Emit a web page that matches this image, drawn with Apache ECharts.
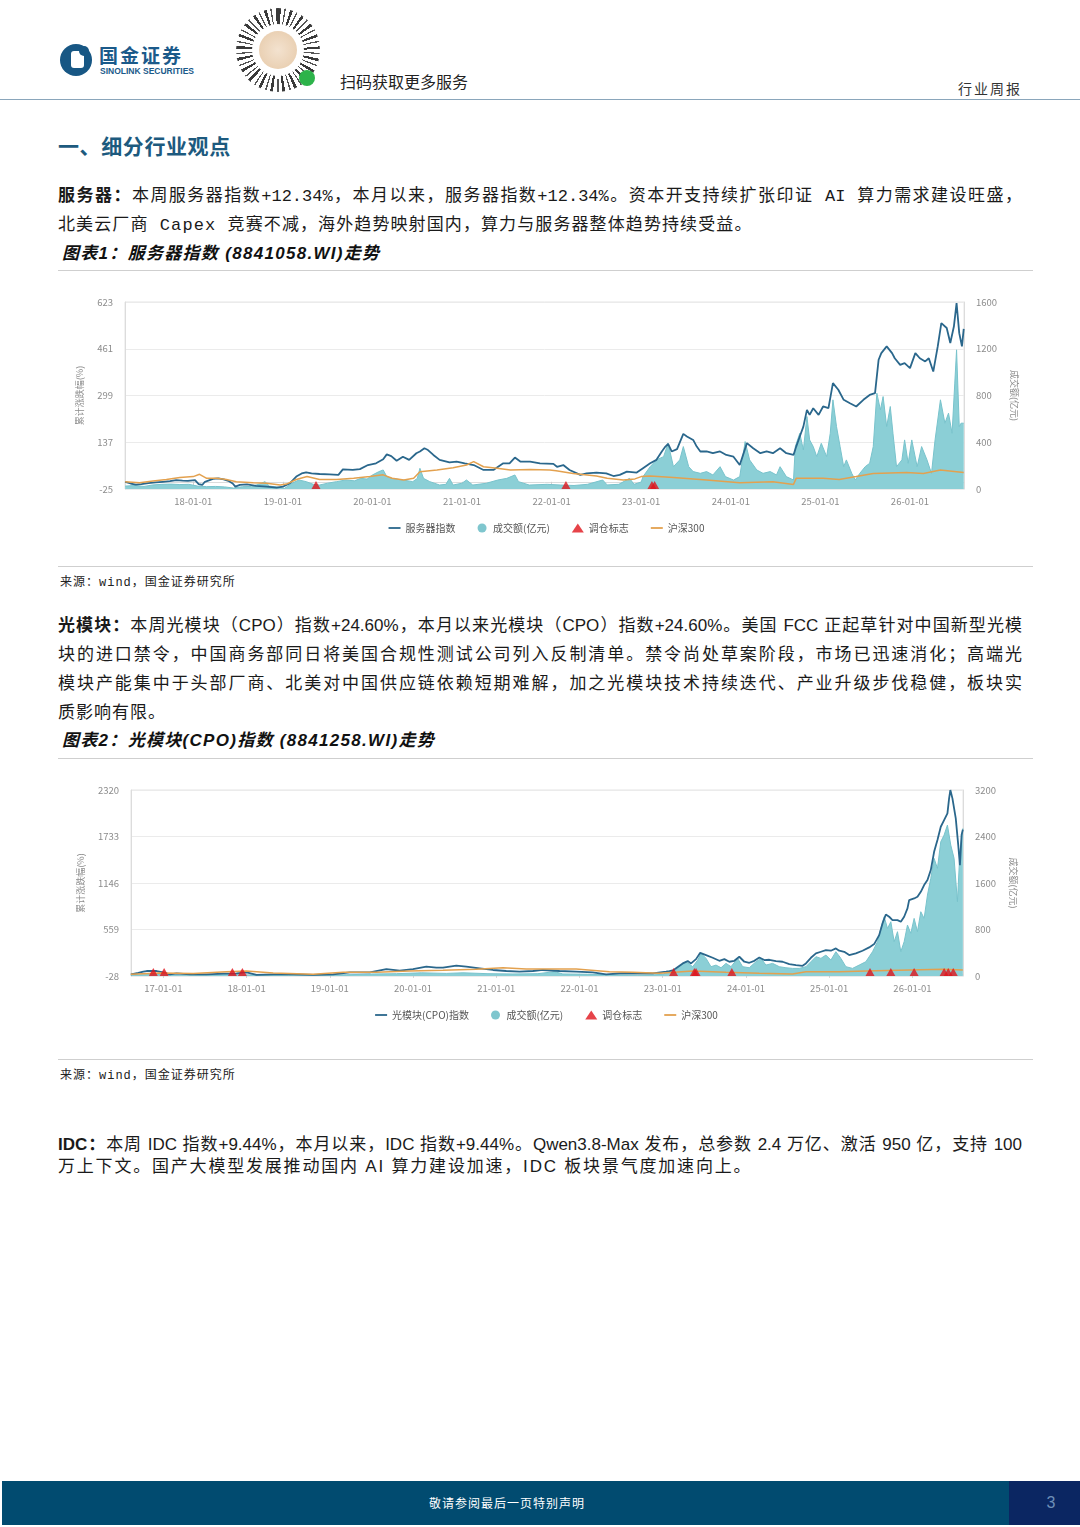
<!DOCTYPE html>
<html><head><meta charset="utf-8">
<script src="https://cdn.jsdelivr.net/npm/echarts@6/dist/echarts.min.js"></script>
<style>
html,body{margin:0;padding:0;background:#fff;}
#page{position:relative;width:1080px;height:1527px;overflow:hidden;font-family:"Noto Sans CJK SC",sans-serif;color:#1a1a1a;}
.abs{position:absolute;}
.ln{position:absolute;left:58px;width:964px;font-size:17px;text-align:justify;text-align-last:justify;overflow:hidden;white-space:normal;}
.last{text-align-last:left;}
.f1{font-family:"Liberation Mono","Noto Sans CJK SC",monospace;}
.f2{font-family:"Liberation Sans Narrow","Liberation Sans","Noto Sans CJK SC",sans-serif;}
.cap{position:absolute;left:62px;font-size:17px;font-weight:bold;font-style:italic;color:#111;letter-spacing:1.3px;font-family:"Liberation Sans Narrow","Liberation Sans","Noto Sans CJK SC",sans-serif;}
.rule{position:absolute;left:58px;width:975px;height:1px;background:#cfcfcf;}
.src{position:absolute;left:60px;font-size:12px;letter-spacing:1px;color:#222;font-family:"Liberation Mono","Noto Sans CJK SC",monospace;}
</style></head>
<body><div id="page">
<!-- header -->
<svg class="abs" style="left:58px;top:42px" width="36" height="36" viewBox="0 0 36 36">
 <circle cx="18" cy="18" r="16" fill="#175784"/>
 <rect x="13" y="9" width="13" height="17" rx="3" fill="#fff"/>
 <circle cx="26" cy="9" r="5" fill="#175784"/>
</svg>
<div class="abs" style="left:99px;top:43px;font-size:19px;font-weight:bold;color:#1b5a8a;letter-spacing:2px;line-height:24px">国金证券</div>
<div class="abs" style="left:100px;top:66px;font-size:8.5px;font-weight:bold;color:#1b5a8a;font-family:'Liberation Sans',sans-serif;line-height:10px">SINOLINK SECURITIES</div>
<div class="abs" style="left:236px;top:8px;width:84px;height:84px;border-radius:50%;background:repeating-conic-gradient(#3a3a3a 0deg 4deg,#fff 4deg 9deg,#555 9deg 11deg,#fff 11deg 17deg)"></div>
<div class="abs" style="left:252px;top:24px;width:52px;height:52px;border-radius:50%;background:#fff"></div>
<div class="abs" style="left:259px;top:31px;width:38px;height:38px;border-radius:50%;background:radial-gradient(circle,#f3e2cf 0%,#e6c9a8 100%)"></div>
<div class="abs" style="left:299px;top:70px;width:16px;height:16px;border-radius:50%;background:#2db34a"></div>
<div class="abs" style="left:340px;top:70px;font-size:16px;color:#222;line-height:22px">扫码获取更多服务</div>
<div class="abs" style="left:958px;top:78px;font-size:14px;color:#333;letter-spacing:2px;line-height:20px">行业周报</div>
<div class="abs" style="left:0;top:99px;width:1080px;height:1px;background:#8aa6bb"></div>

<div class="abs" style="left:58px;top:130px;font-size:21px;font-weight:bold;color:#1d5a7e;line-height:30px;letter-spacing:0.6px">一、细分行业观点</div>

<div class="ln f1" style="top:182px;line-height:29px;height:29px"><b>服务器：</b>本周服务器指数+12.34%，本月以来，服务器指数+12.34%。资本开支持续扩张印证 AI 算力需求建设旺盛，</div>
<div class="ln f1 last" style="top:211px;line-height:29px;height:29px;letter-spacing:1.1px">北美云厂商 Capex 竞赛不减，海外趋势映射国内，算力与服务器整体趋势持续受益。</div>
<div class="cap" style="top:240px;line-height:28px">图表1：服务器指数 (8841058.WI)走势</div>
<div class="rule" style="top:270px"></div>
<div id="c1" class="abs" style="left:58px;top:272px;width:977px;height:292px"></div>
<div class="rule" style="top:566px"></div>
<div class="src" style="top:574px;line-height:18px">来源：wind，国金证券研究所</div>

<div class="ln f2" style="top:611px;line-height:29px;height:29px"><b>光模块：</b>本周光模块（CPO）指数+24.60%，本月以来光模块（CPO）指数+24.60%。美国 FCC 正起草针对中国新型光模</div>
<div class="ln f2" style="top:640px;line-height:29px;height:29px">块的进口禁令，中国商务部同日将美国合规性测试公司列入反制清单。禁令尚处草案阶段，市场已迅速消化；高端光</div>
<div class="ln f2" style="top:669px;line-height:29px;height:29px">模块产能集中于头部厂商、北美对中国供应链依赖短期难解，加之光模块技术持续迭代、产业升级步伐稳健，板块实</div>
<div class="ln f2 last" style="top:698px;line-height:29px;height:29px;letter-spacing:1px">质影响有限。</div>
<div class="cap" style="top:727px;line-height:28px">图表2：光模块(CPO)指数 (8841258.WI)走势</div>
<div class="rule" style="top:758px"></div>
<div id="c2" class="abs" style="left:58px;top:760px;width:977px;height:297px"></div>
<div class="rule" style="top:1059px"></div>
<div class="src" style="top:1067px;line-height:18px">来源：wind，国金证券研究所</div>

<div class="ln f2" style="top:1134px;line-height:22px;height:22px"><b>IDC：</b>本周 IDC 指数+9.44%，本月以来，IDC 指数+9.44%。Qwen3.8-Max 发布，总参数 2.4 万亿、激活 950 亿，支持 100</div>
<div class="ln f2 last" style="top:1156px;line-height:22px;height:22px;letter-spacing:1.8px">万上下文。国产大模型发展推动国内 AI 算力建设加速，IDC 板块景气度加速向上。</div>

<!-- footer -->
<div class="abs" style="left:2px;top:1481px;width:1078px;height:44px;background:#014b70"></div>
<div class="abs" style="left:1009px;top:1481px;width:71px;height:44px;background:#0b2662"></div>
<div class="abs" style="left:2px;top:1481px;width:1010px;height:44px;line-height:44px;text-align:center;color:#fff;font-size:12px;letter-spacing:1px">敬请参阅最后一页特别声明</div>
<div class="abs" style="left:1009px;top:1481px;width:84px;height:44px;line-height:44px;text-align:center;color:#6d8fb8;font-size:16px;font-family:'Liberation Sans',sans-serif">3</div>
</div>

<script>
// ---------- Chart 1 data: 服务器指数 (decimal year, value) ----------
const serverYearTicks = [2018,2019,2020,2021,2022,2023,2024,2025,2026];
const serverIndex = [
[2017.24,0],[2017.30,-6],[2017.36,-10],[2017.42,-8],[2017.50,-5],[2017.58,-2],[2017.66,0],[2017.74,2],[2017.81,6],[2017.88,4],[2017.94,3],[2018.02,6],[2018.06,-8],[2018.10,-11],[2018.13,0],[2018.22,10],[2018.28,12],[2018.34,8],[2018.40,2],[2018.44,-6],[2018.47,-17],[2018.52,-11],[2018.60,-9],[2018.70,-14],[2018.82,-17],[2018.93,-20],[2019.00,-17],[2019.08,-5],[2019.15,18],[2019.21,29],[2019.26,33],[2019.32,29],[2019.41,27],[2019.52,26],[2019.62,24],[2019.67,43],[2019.78,41],[2019.86,44],[2019.95,58],[2020.04,64],[2020.12,78],[2020.16,95],[2020.21,89],[2020.27,73],[2020.34,87],[2020.41,76],[2020.49,99],[2020.53,105],[2020.58,116],[2020.62,110],[2020.68,93],[2020.75,76],[2020.86,67],[2020.94,70],[2021.03,64],[2021.13,58],[2021.24,41],[2021.35,41],[2021.46,64],[2021.53,64],[2021.59,84],[2021.65,70],[2021.76,70],[2021.87,64],[2022.02,62],[2022.06,52],[2022.13,58],[2022.20,41],[2022.32,24],[2022.39,29],[2022.50,32],[2022.61,29],[2022.69,20],[2022.76,24],[2022.84,35],[2022.95,32],[2023.02,47],[2023.10,64],[2023.17,76],[2023.23,105],[2023.27,122],[2023.30,131],[2023.34,105],[2023.40,113],[2023.47,166],[2023.51,157],[2023.58,145],[2023.62,122],[2023.66,105],[2023.73,105],[2023.80,99],[2023.88,105],[2023.95,93],[2024.03,87],[2024.10,58],[2024.18,134],[2024.25,116],[2024.33,99],[2024.40,105],[2024.47,99],[2024.55,116],[2024.62,99],[2024.70,93],[2024.73,122],[2024.77,157],[2024.81,191],[2024.85,249],[2024.88,232],[2024.92,255],[2024.98,232],[2025.03,261],[2025.09,255],[2025.14,342],[2025.20,319],[2025.26,284],[2025.33,272],[2025.40,261],[2025.48,284],[2025.55,301],[2025.61,307],[2025.65,423],[2025.68,446],[2025.74,469],[2025.80,446],[2025.83,428],[2025.89,405],[2025.94,411],[2026.00,394],[2026.06,446],[2026.11,428],[2026.17,417],[2026.21,428],[2026.26,382],[2026.31,469],[2026.35,550],[2026.41,533],[2026.45,481],[2026.49,538],[2026.52,619],[2026.55,515],[2026.58,469],[2026.60,530]
];
const serverVolume = [
[2017.24,25],[2017.35,30],[2017.45,22],[2017.55,35],[2017.65,40],[2017.75,42],[2017.85,38],[2017.95,40],[2018.05,25],[2018.15,20],[2018.25,22],[2018.35,18],[2018.45,8],[2018.55,20],[2018.65,22],[2018.75,45],[2018.80,63],[2018.85,25],[2018.95,15],[2019.02,6],[2019.10,49],[2019.18,77],[2019.26,63],[2019.34,40],[2019.41,34],[2019.50,50],[2019.60,63],[2019.70,77],[2019.80,70],[2019.87,91],[2019.94,85],[2020.00,120],[2020.07,148],[2020.12,163],[2020.16,106],[2020.22,90],[2020.34,77],[2020.45,63],[2020.50,90],[2020.53,177],[2020.57,91],[2020.64,63],[2020.75,34],[2020.82,40],[2020.86,91],[2020.90,34],[2021.00,50],[2021.05,77],[2021.12,34],[2021.27,49],[2021.40,77],[2021.50,91],[2021.59,120],[2021.63,63],[2021.75,34],[2021.95,40],[2022.10,34],[2022.25,30],[2022.40,40],[2022.57,77],[2022.62,35],[2022.75,40],[2022.87,91],[2022.92,40],[2023.00,60],[2023.02,106],[2023.10,191],[2023.17,249],[2023.25,277],[2023.30,391],[2023.36,191],[2023.43,249],[2023.47,363],[2023.53,191],[2023.58,149],[2023.66,134],[2023.73,149],[2023.80,120],[2023.88,191],[2023.94,106],[2024.03,77],[2024.10,106],[2024.16,406],[2024.21,249],[2024.29,163],[2024.36,134],[2024.44,149],[2024.51,120],[2024.55,191],[2024.62,106],[2024.70,77],[2024.72,363],[2024.77,477],[2024.81,334],[2024.85,620],[2024.88,420],[2024.92,363],[2024.96,277],[2025.01,391],[2025.07,277],[2025.11,477],[2025.14,763],[2025.18,534],[2025.22,363],[2025.26,191],[2025.29,249],[2025.35,134],[2025.39,77],[2025.44,134],[2025.50,191],[2025.55,220],[2025.59,363],[2025.63,820],[2025.67,677],[2025.70,791],[2025.74,534],[2025.78,706],[2025.81,477],[2025.85,191],[2025.91,249],[2025.94,420],[2025.98,220],[2026.02,420],[2026.08,191],[2026.13,363],[2026.19,249],[2026.24,134],[2026.28,420],[2026.34,763],[2026.39,563],[2026.43,649],[2026.47,477],[2026.50,906],[2026.52,1191],[2026.55,534],[2026.57,563],[2026.60,563]
];
const serverHS300 = [
[2017.24,0],[2017.40,-3],[2017.55,3],[2017.70,8],[2017.85,15],[2018.00,18],[2018.07,26],[2018.15,12],[2018.26,12],[2018.37,8],[2018.48,0],[2018.67,-3],[2018.82,-5],[2018.97,-11],[2019.04,-8],[2019.15,8],[2019.27,18],[2019.41,8],[2019.60,8],[2019.79,12],[2019.97,18],[2020.12,24],[2020.22,12],[2020.35,6],[2020.46,12],[2020.53,35],[2020.72,41],[2020.90,49],[2021.05,58],[2021.13,70],[2021.24,52],[2021.39,47],[2021.54,41],[2021.76,43],[2021.98,41],[2022.05,38],[2022.24,29],[2022.50,20],[2022.62,12],[2022.80,6],[2022.93,10],[2023.00,18],[2023.10,20],[2023.36,15],[2023.73,6],[2024.10,-3],[2024.47,0],[2024.70,-9],[2024.73,12],[2025.03,12],[2025.21,8],[2025.40,18],[2025.59,29],[2025.96,32],[2026.15,29],[2026.34,41],[2026.52,35],[2026.60,32]
];
const serverMarks = [2019.37, 2022.16, 2023.12, 2023.15];

// ---------- Chart 2 data: 光模块(CPO)指数 ----------
const cpoYearTicks = [2017,2018,2019,2020,2021,2022,2023,2024,2025,2026];
const cpoIndex = [
[2016.61,-7],[2016.70,10],[2016.76,27],[2016.80,35],[2016.92,35],[2017.00,18],[2017.08,-7],[2017.16,6],[2017.32,-7],[2017.52,-7],[2017.72,2],[2017.88,6],[2018.00,18],[2018.12,-15],[2018.32,-7],[2018.56,-7],[2018.80,-15],[2019.04,-7],[2019.24,18],[2019.48,18],[2019.68,60],[2019.84,39],[2020.00,60],[2020.16,90],[2020.28,77],[2020.36,77],[2020.52,103],[2020.64,90],[2020.80,69],[2020.96,48],[2021.12,35],[2021.28,27],[2021.44,35],[2021.56,48],[2021.76,35],[2021.96,27],[2022.16,18],[2022.32,-7],[2022.48,6],[2022.64,10],[2022.88,6],[2023.04,27],[2023.08,34],[2023.13,47],[2023.24,131],[2023.30,160],[2023.34,131],[2023.40,185],[2023.45,265],[2023.52,236],[2023.60,202],[2023.68,164],[2023.74,185],[2023.80,152],[2023.86,164],[2023.92,215],[2023.98,152],[2024.04,139],[2024.10,164],[2024.16,206],[2024.22,173],[2024.28,177],[2024.36,160],[2024.44,152],[2024.52,122],[2024.60,110],[2024.68,101],[2024.72,131],[2024.78,202],[2024.84,257],[2024.90,278],[2024.96,299],[2025.02,291],[2025.08,320],[2025.12,291],[2025.18,278],[2025.24,236],[2025.32,257],[2025.40,291],[2025.48,333],[2025.54,375],[2025.60,488],[2025.64,636],[2025.68,749],[2025.72,720],[2025.76,678],[2025.82,678],[2025.86,657],[2025.90,720],[2025.94,825],[2025.96,930],[2026.02,951],[2026.06,972],[2026.10,1035],[2026.14,1120],[2026.18,1183],[2026.22,1309],[2026.26,1540],[2026.30,1688],[2026.34,1856],[2026.38,1940],[2026.42,2024],[2026.44,2214],[2026.455,2319],[2026.48,2214],[2026.52,1961],[2026.55,1625],[2026.57,1372],[2026.59,1751],[2026.605,1820]
];
const cpoVolume = [
[2016.61,15],[2016.90,25],[2017.20,15],[2017.50,12],[2017.80,25],[2018.10,12],[2018.50,10],[2018.90,12],[2019.20,20],[2019.50,35],[2019.80,40],[2020.10,55],[2020.40,45],[2020.60,55],[2020.90,40],[2021.20,35],[2021.50,40],[2021.70,75],[2021.80,35],[2022.10,30],[2022.40,20],[2022.70,15],[2022.90,20],[2023.00,30],[2023.08,73],[2023.16,102],[2023.22,188],[2023.28,246],[2023.36,160],[2023.42,274],[2023.46,389],[2023.52,303],[2023.58,160],[2023.64,188],[2023.70,142],[2023.76,217],[2023.82,160],[2023.90,303],[2023.96,160],[2024.04,142],[2024.12,246],[2024.18,303],[2024.24,188],[2024.32,217],[2024.40,160],[2024.48,142],[2024.56,131],[2024.64,131],[2024.72,160],[2024.78,246],[2024.84,332],[2024.90,303],[2024.96,360],[2025.02,274],[2025.08,418],[2025.14,303],[2025.20,160],[2025.28,131],[2025.36,188],[2025.44,246],[2025.52,418],[2025.58,590],[2025.62,819],[2025.66,1020],[2025.70,819],[2025.74,934],[2025.78,590],[2025.82,762],[2025.86,418],[2025.90,590],[2025.94,876],[2025.98,733],[2026.02,991],[2026.06,762],[2026.10,1106],[2026.14,991],[2026.18,1393],[2026.22,1679],[2026.26,2023],[2026.30,1851],[2026.34,2310],[2026.38,2425],[2026.42,2597],[2026.46,2253],[2026.50,2023],[2026.54,1278],[2026.57,2138],[2026.605,2539]
];
const cpoHS300 = [
[2016.61,-7],[2016.96,10],[2017.36,2],[2017.76,27],[2018.00,35],[2018.32,10],[2018.80,-7],[2019.16,18],[2019.56,18],[2019.96,35],[2020.36,44],[2020.76,56],[2021.08,77],[2021.36,60],[2021.76,60],[2021.96,60],[2022.36,27],[2022.64,18],[2022.96,6],[2023.36,35],[2023.76,18],[2024.16,6],[2024.56,-3],[2024.72,27],[2025.12,27],[2025.56,39],[2025.96,48],[2026.36,56],[2026.605,48]
];
const cpoMarks = [2016.88,2017.01,2017.83,2017.95,2023.13,2023.38,2023.40,2023.83,2025.49,2025.74,2026.02,2026.38,2026.43,2026.49];

const LABEL_COLOR = '#8c8c8c';
const LINE_ICON = 'path://M0,0L16,0L16,2.4L0,2.4Z';
function buildOption(c){
  const yearFmt = v => String(Math.round(v)).slice(2) + '-01-01';
  const plain = v => String(v);
  return {
    animation:false,
    textStyle:{fontFamily:'Noto Sans CJK SC'},
    grid:{left:c.gl,right:c.gr,top:30,bottom:c.gb,show:true,borderColor:'#e4e4e4',borderWidth:1},
    legend:{
      top:c.legTop,left:'center',itemGap:22,itemWidth:12,itemHeight:9,
      textStyle:{fontSize:10,color:'#555'},
      data:[{name:c.idxName,icon:LINE_ICON},{name:'成交额(亿元)',icon:'circle'},{name:'调仓标志',icon:'triangle'},{name:'沪深300',icon:LINE_ICON}]
    },
    xAxis:{
      type:'value',min:c.xmin,max:c.xmax,
      axisLine:{show:true,lineStyle:{color:'#dcdcdc'}},
      axisTick:{show:true,customValues:c.ticks,length:4,lineStyle:{color:'#cfcfcf'}},
      axisLabel:{customValues:c.ticks,formatter:yearFmt,fontSize:9.5,color:LABEL_COLOR,margin:8},
      splitLine:{show:false}
    },
    yAxis:[
      {type:'value',min:c.lmin,max:c.lmax,interval:c.lint,
       name:'累计涨跌幅(%)',nameLocation:'middle',nameGap:c.lNameGap,nameRotate:90,
       nameTextStyle:{fontSize:9,color:'#8c8c8c'},
       axisLine:{show:true,lineStyle:{color:'#dcdcdc'}},axisTick:{show:false},
       axisLabel:{fontSize:9.5,color:LABEL_COLOR,margin:12,formatter:plain},
       splitLine:{lineStyle:{color:'#ebebeb'}}},
      {type:'value',min:0,max:c.rmax,interval:c.rint,position:'right',
       name:'成交额(亿元)',nameLocation:'middle',nameGap:c.rNameGap,nameRotate:-90,
       nameTextStyle:{fontSize:9,color:'#8c8c8c'},
       axisLine:{show:true,lineStyle:{color:'#dcdcdc'}},axisTick:{show:false},
       axisLabel:{fontSize:9.5,color:LABEL_COLOR,margin:12,formatter:plain},
       splitLine:{show:false}}
    ],
    series:[
      {name:'成交额(亿元)',type:'line',yAxisIndex:1,data:c.vol,symbol:'none',
       lineStyle:{width:1,color:'#79c3cc'},itemStyle:{color:'#7fc6ce'},
       areaStyle:{color:'#8bcfd6',opacity:1},z:1},
      {name:c.idxName,type:'line',yAxisIndex:0,data:c.idx,symbol:'none',
       lineStyle:{width:1.8,color:'#2a678c'},itemStyle:{color:'#2a678c'},z:3},
      {name:'沪深300',type:'line',yAxisIndex:0,data:c.hs,symbol:'none',
       lineStyle:{width:1.5,color:'#e3a14f'},itemStyle:{color:'#e3a14f'},z:4},
      {name:'调仓标志',type:'scatter',yAxisIndex:0,data:c.marks.map(y=>[y,c.lmin]),
       symbol:'triangle',symbolSize:[9,8],symbolOffset:[0,-4],clip:false,
       itemStyle:{color:'#e0141b'},z:5}
    ]
  };
}

const ch1 = echarts.init(document.getElementById('c1'));
ch1.setOption(buildOption({
  gl:67,gr:71,gb:75,legTop:246,xmin:2017.238,xmax:2026.603,ticks:serverYearTicks,
  lmin:-25,lmax:623,lint:162,rmax:1600,rint:400,lNameGap:41,rNameGap:46,
  idxName:'服务器指数',idx:serverIndex,vol:serverVolume,hs:serverHS300,marks:serverMarks
}));
const ch2 = echarts.init(document.getElementById('c2'));
ch2.setOption(buildOption({
  gl:73,gr:72,gb:81,legTop:245,xmin:2016.612,xmax:2026.607,ticks:cpoYearTicks,
  lmin:-28,lmax:2320,lint:587,rmax:3200,rint:800,lNameGap:46,rNameGap:46,
  idxName:'光模块(CPO)指数',idx:cpoIndex,vol:cpoVolume,hs:cpoHS300,marks:cpoMarks
}));
</script>
</body></html>
